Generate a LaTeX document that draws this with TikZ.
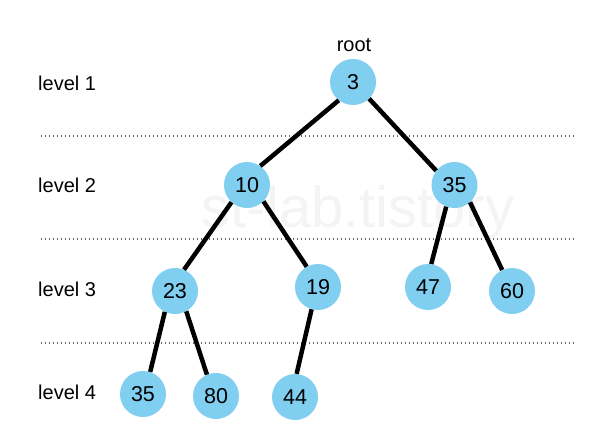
\documentclass[tikz,border=0pt]{standalone}
\usepackage{fontspec}
\setmainfont{Liberation Sans}
\definecolor{nodeblue}{RGB}{128,206,240}
\definecolor{wmark}{RGB}{244,244,244}
\begin{document}
\begin{tikzpicture}[x=1pt,y=-1pt,
  tnode/.style={circle,fill=nodeblue,draw=none,minimum size=46pt,inner sep=0pt,font=\fontsize{21.5}{22}\selectfont},
  edge/.style={line width=4.5pt,black},
  levelsep/.style={black!60,line width=1.1pt,dash pattern=on 1.1pt off 2.9pt},
  lbl/.style={anchor=base west,inner sep=0pt,font=\fontsize{20}{20}\selectfont}]
\useasboundingbox (0,0) rectangle (591,431);
% watermark
\node[font=\fontsize{58}{58}\selectfont,text=wmark,anchor=base,inner sep=0pt] (wm) at (358,227) {st-lab.tistory};
% level separators
\coordinate (s1a) at (41,136); \coordinate (s1b) at (576,136);
\coordinate (s2a) at (41,239); \coordinate (s2b) at (576,239);
\coordinate (s3a) at (41,343); \coordinate (s3b) at (576,343);
\draw[levelsep] (s1a) -- (s1b);
\draw[levelsep] (s2a) -- (s2b);
\draw[levelsep] (s3a) -- (s3b);
% level labels
\node[lbl] (l1) at (38,90.5) {level 1};
\node[lbl] (l2) at (38,192.5) {level 2};
\node[lbl] (l3) at (38,296) {level 3};
\node[lbl] (l4) at (38,399) {level 4};
\node[anchor=base,inner sep=0pt,font=\fontsize{20}{20}\selectfont] (rootlbl) at (354,51) {root};
% nodes
\node[tnode] (n3) at (353,82) {3};
\node[tnode] (n10) at (247,185) {10};
\node[tnode] (n35a) at (454.5,185) {35};
\node[tnode] (n23) at (175,291) {23};
\node[tnode] (n19) at (318,287) {19};
\node[tnode] (n47) at (428,287) {47};
\node[tnode] (n60) at (512,291) {60};
\node[tnode] (n35b) at (143,394) {35};
\node[tnode] (n80) at (216,396) {80};
\node[tnode] (n44) at (295,397) {44};
% edges
\draw[edge] (n3.232) -- (n10.55);
\draw[edge] (n3.-46) -- (n35a.142);
\draw[edge] (n10.228) -- (n23.67);
\draw[edge] (n10.-45) -- (n19.119);
\draw[edge] (n35a.249) -- (n47.82);
\draw[edge] (n35a.-48) -- (n60.115);
\draw[edge] (n23.244) -- (n35b.72);
\draw[edge] (n23.299) -- (n80.113);
\draw[edge] (n19.254) -- (n44.86);
\end{tikzpicture}
\end{document}
